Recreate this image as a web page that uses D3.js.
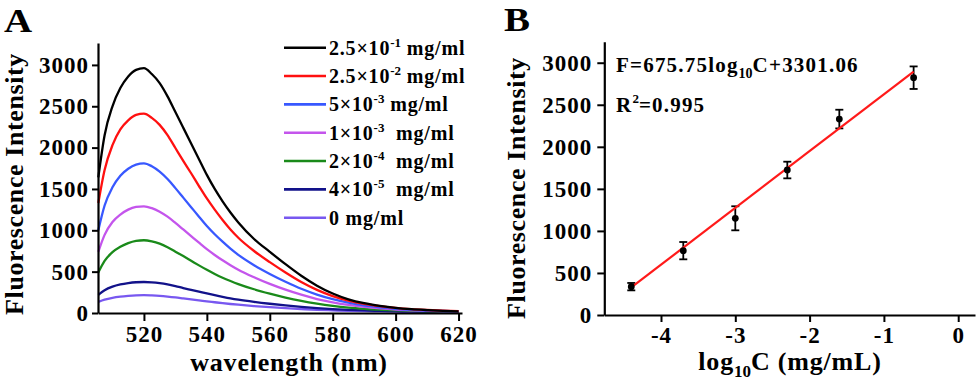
<!DOCTYPE html>
<html><head><meta charset="utf-8">
<script src="https://cdn.jsdelivr.net/npm/d3@7/dist/d3.min.js"></script>
<style>
html,body{margin:0;padding:0;background:#fff;}
svg{display:block;}
text{font-family:"Liberation Serif","Times New Roman",serif;font-weight:bold;fill:#000;}
</style></head>
<body>
<svg id="chart" width="980" height="383"></svg>
<script>
// ---------- Panel A data ----------
const wavelengths = [505.5,507.5,510,512.5,515,517.5,520,522.5,525,527.5,530,532.5,535,537.5,540,542.5,545,547.5,550,555,560,565,570,575,580,585,590,595,600,605,610,615,620];
const s250e1 = [1640,2150,2500,2720,2860,2940,2960,2890,2780,2620,2430,2240,2050,1860,1670,1500,1350,1215,1095,895,740,590,450,330,235,165,118,86,62,46,35,26,20];
const s250e2 = [1330,1730,2030,2220,2330,2395,2410,2360,2275,2150,1995,1840,1690,1535,1385,1250,1125,1010,910,750,615,490,375,280,205,150,110,82,61,46,36,28,22];
const s5e3   = [1000,1300,1520,1660,1745,1795,1810,1775,1710,1620,1510,1395,1280,1165,1052,952,862,778,703,578,472,378,293,223,167,124,91,68,50,38,30,24,20];
const s1e3   = [740,945,1100,1190,1250,1282,1290,1268,1225,1165,1090,1010,930,850,772,702,637,578,523,432,352,282,221,169,129,97,73,55,42,33,26,21,18];
const s2e4   = [490,630,735,800,845,872,880,866,838,795,742,688,632,576,522,472,427,387,350,287,234,187,147,114,87,66,51,40,31,25,20,17,15];
const s4e5   = [220,275,318,345,362,372,375,370,360,345,325,302,280,258,236,215,196,178,162,135,112,92,74,59,47,38,31,26,22,19,16,14,12];
const s0     = [135,162,184,198,207,213,215,212,207,199,189,177,165,153,141,130,119,109,100,84,70,58,48,39,32,26,22,19,16,14,12,10,9];
const seriesA = [s250e1, s250e2, s5e3, s1e3, s2e4, s4e5, s0];
const colorsA = ["#000000","#ff1010","#3858ff","#c455ec","#1a8a1a","#12128a","#7858f0"];
const legendBase = ["2.5×10","2.5×10","5×10","1×10","2×10","4×10","0"];
const legendExp  = ["-1","-2","-3","-3","-4","-5",""];
const legendUnit = [" mg/ml"," mg/ml"," mg/ml","  mg/ml","  mg/ml","  mg/ml"," mg/ml"];
const ticksAx = [520,540,560,580,600,620];
const ticksY = [0,500,1000,1500,2000,2500,3000];

// ---------- Panel B data ----------
const logC = [-4.4,-3.7,-3.0,-2.3,-1.6,-0.6];
const fluor = [337,765,1150,1724,2330,2822];
const fluorErr = [44,103,143,99,111,134];
const fitSlope = 675.75, fitIntercept = 3301.06;
const fitRange = [-4.4,-0.6];
const ticksBx = [-4,-3,-2,-1,0];

const svg = d3.select("#chart");
svg.append("rect").attr("width",980).attr("height",383).attr("fill","#fff");

function styleAxis(g){
  g.selectAll("path.domain").attr("stroke","#000").attr("stroke-width",2.2);
  g.selectAll(".tick line").attr("stroke","#000").attr("stroke-width",2);
  g.selectAll(".tick text").attr("font-family","Liberation Serif, serif").attr("font-weight","bold")
    .attr("font-size",23).attr("letter-spacing","1px").attr("fill","#000");
}

// ---------- Panel A ----------
const xA = d3.scaleLinear().domain([505.4,621.1]).range([98,462]);
const yA = d3.scaleLinear().domain([0,3265]).range([313,43]);

const lineA = d3.line().x((d,i)=>xA(wavelengths[i])).y(d=>yA(d)).curve(d3.curveMonotoneX);
seriesA.slice().reverse().forEach((s,k)=>{
  const i = seriesA.length-1-k;
  svg.append("path").attr("d",lineA(s)).attr("fill","none").attr("stroke",colorsA[i]).attr("stroke-width",2.3);
});

const gAx = svg.append("g").attr("transform","translate(0,313)")
  .call(d3.axisBottom(xA).tickValues(ticksAx).tickSize(8).tickSizeOuter(0).tickPadding(5).tickFormat(d=>String(d)));
styleAxis(gAx);
const gAy = svg.append("g").attr("transform","translate(98,0)")
  .call(d3.axisLeft(yA).tickValues(ticksY).tickSize(6).tickSizeOuter(0).tickPadding(3).tickFormat(d=>String(d)));
styleAxis(gAy);

svg.append("text").attr("x",289).attr("y",371).attr("text-anchor","middle").attr("font-size",26)
  .attr("letter-spacing","0.8px").text("wavelength (nm)");
svg.append("text").attr("transform","translate(23,184) rotate(-90)").attr("text-anchor","middle")
  .attr("font-size",26).attr("letter-spacing","0.6px").text("Fluorescence Intensity");
svg.append("text").attr("x",4).attr("y",32).attr("font-size",33).attr("transform","translate(4,32) scale(1.18,1) translate(-4,-32)").text("A");

// legend
const legRowY = d3.scaleLinear().domain([0,6]).range([47.7,217.7]);
seriesA.forEach((s,i)=>{
  const yy = legRowY(i);
  svg.append("line").attr("x1",284).attr("x2",326).attr("y1",yy).attr("y2",yy)
    .attr("stroke",colorsA[i]).attr("stroke-width",2.6);
  const t = svg.append("text").attr("x",329).attr("y",yy+7).attr("font-size",20)
    .attr("letter-spacing","0.8px").style("white-space","pre");
  t.append("tspan").text(legendBase[i]);
  if (legendExp[i]) {
    t.append("tspan").attr("font-size",13).attr("dy",-8).attr("letter-spacing","0px").text(legendExp[i]);
    t.append("tspan").attr("dy",8).text(legendUnit[i]);
  } else {
    t.append("tspan").text(legendUnit[i]);
  }
});

// ---------- Panel B ----------
const xB = d3.scaleLinear().domain([-4.763,0.226]).range([604.3,975]);
const yB = d3.scaleLinear().domain([0,3250]).range([315,41.7]);

const gBx = svg.append("g").attr("transform","translate(0,315)")
  .call(d3.axisBottom(xB).tickValues(ticksBx).tickSize(7).tickSizeOuter(0).tickPadding(5).tickFormat(d=>String(d)));
styleAxis(gBx);
const gBy = svg.append("g").attr("transform","translate(604.3,0)")
  .call(d3.axisLeft(yB).tickValues(ticksY).tickSize(7).tickSizeOuter(0).tickPadding(5).tickFormat(d=>String(d)));
styleAxis(gBy);

// error bars
logC.forEach((c,i)=>{
  const x = xB(c), y1 = yB(fluor[i]-fluorErr[i]), y2 = yB(fluor[i]+fluorErr[i]);
  svg.append("line").attr("x1",x).attr("x2",x).attr("y1",y1).attr("y2",y2).attr("stroke","#000").attr("stroke-width",1.8);
  [y1,y2].forEach(yy=>svg.append("line").attr("x1",x-4).attr("x2",x+4).attr("y1",yy).attr("y2",yy).attr("stroke","#000").attr("stroke-width",1.8));
});
// fit line
svg.append("line").attr("x1",xB(fitRange[0])).attr("y1",yB(fitSlope*fitRange[0]+fitIntercept))
  .attr("x2",xB(fitRange[1])).attr("y2",yB(fitSlope*fitRange[1]+fitIntercept))
  .attr("stroke","#ff1a1a").attr("stroke-width",2.2);
// points
svg.selectAll("circle.pt").data(logC).enter().append("circle").attr("class","pt")
  .attr("cx",d=>xB(d)).attr("cy",(d,i)=>yB(fluor[i])).attr("r",3.4).attr("fill","#000");

// equation
const eq = svg.append("text").attr("x",616).attr("y",72).attr("font-size",21).attr("letter-spacing","1.2px");
eq.append("tspan").text("F=675.75log");
eq.append("tspan").attr("font-size",14).attr("dy",6).attr("letter-spacing","0px").text("10");
eq.append("tspan").attr("dy",-6).text("C+3301.06");
const r2 = svg.append("text").attr("x",616).attr("y",112).attr("font-size",21).attr("letter-spacing","1.2px");
r2.append("tspan").text("R");
r2.append("tspan").attr("font-size",13).attr("dy",-9).attr("letter-spacing","0px").text("2");
r2.append("tspan").attr("dy",9).text("=0.995");

// axis titles
const xt = svg.append("text").attr("x",790).attr("y",370).attr("text-anchor","middle").attr("font-size",26).attr("letter-spacing","0.8px");
xt.append("tspan").text("log");
xt.append("tspan").attr("font-size",17).attr("dy",7).attr("letter-spacing","0px").text("10");
xt.append("tspan").attr("dy",-7).text("C (mg/mL)");
svg.append("text").attr("transform","translate(525,188) rotate(-90)").attr("text-anchor","middle")
  .attr("font-size",26).attr("letter-spacing","0.6px").text("Fluorescence Intensity");
svg.append("text").attr("x",504).attr("y",31).attr("font-size",33).attr("transform","translate(504,31) scale(1.18,1) translate(-504,-31)").text("B");
</script>
</body></html>
